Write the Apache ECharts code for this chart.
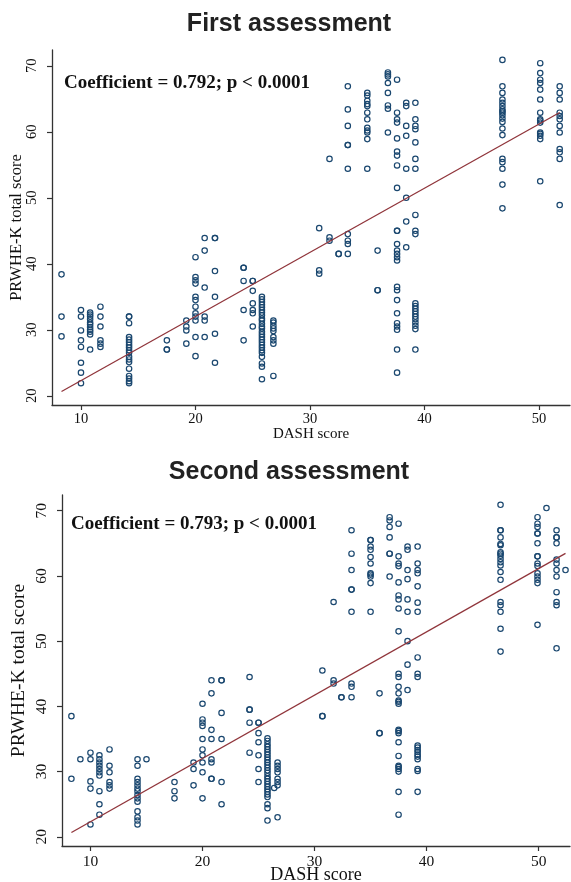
<!DOCTYPE html>
<html>
<head>
<meta charset="utf-8">
<script src="https://cdn.jsdelivr.net/npm/echarts@6/dist/echarts.min.js"></script>
<style>html,body{margin:0;padding:0;background:#fff;}#c{width:571px;height:882px;}</style>
</head>
<body>
<div id="c"></div>
<script>
// ---------- DATA ----------
const titles = ['First assessment', 'Second assessment'];
const coefTexts = ['Coefficient = 0.792; p < 0.0001', 'Coefficient = 0.793; p < 0.0001'];
const xTicks = [10, 20, 30, 40, 50];
const yTicks = [20, 30, 40, 50, 60, 70];
const xName = 'DASH score';
const yName = 'PRWHE-K total score';

// First assessment: DASH columns and PRWHE-K values in each column
const firstDash = [8.3, 10.0, 10.8, 11.7, 14.2, 17.5, 19.2, 20.0, 20.8, 21.7, 24.2, 25.0, 25.8, 26.8,
  30.8, 31.7, 32.5, 33.3, 35.0, 35.9, 36.8, 37.6, 38.4, 39.2, 46.8, 50.1, 51.8];
const firstPrwhe = [
  [38.4, 32.0, 29.0],
  [33.0, 32.0, 29.9, 28.4, 27.4, 25.0, 23.5, 21.9],
  [32.6, 32.3, 32.0, 31.6, 31.1, 30.8, 30.4, 30.0, 29.7, 29.3, 27.0],
  [33.5, 32.0, 30.5, 28.4, 27.9, 27.4],
  [32.0, 32.0, 31.0, 28.9, 28.5, 28.1, 27.7, 27.3, 26.9, 26.5, 25.9, 25.5, 25.1, 24.1, 23.0, 22.6, 22.2, 21.9],
  [28.4, 27.0, 27.0],
  [31.4, 30.5, 29.9, 27.9],
  [41.0, 38.0, 37.5, 37.0, 35.0, 34.5, 33.5, 32.5, 32.0, 31.4, 28.9, 26.0],
  [43.9, 42.0, 36.4, 32.0, 31.4, 28.9],
  [43.9, 43.9, 38.9, 35.0, 29.4, 25.0],
  [39.4, 39.4, 37.4, 33.0, 28.4],
  [37.4, 37.4, 35.9, 34.0, 33.0, 32.5, 30.5],
  [35.0, 34.6, 34.2, 33.8, 33.4, 33.0, 32.6, 32.2, 31.7, 31.4, 30.9, 30.5, 30.2, 29.7, 29.3, 28.9, 28.5, 28.1, 27.7, 27.3, 26.9, 26.5, 25.9, 24.9, 24.4, 22.5],
  [31.4, 31.1, 30.6, 30.2, 29.8, 28.9, 28.4, 27.9, 23.0],
  [45.4, 39.0, 38.5],
  [55.9, 44.0, 43.5],
  [41.5, 41.5],
  [66.9, 63.4, 60.9, 58.0, 58.0, 54.4, 44.5, 43.5, 43.0, 41.5],
  [65.9, 65.5, 64.7, 64.2, 63.9, 62.9, 61.9, 60.6, 60.2, 59.9, 58.9, 54.4],
  [42.0, 36.0, 36.0],
  [69.0, 68.7, 68.4, 67.4, 65.9, 64.0, 63.5, 59.9],
  [67.9, 62.9, 61.9, 61.4, 59.0, 57.0, 56.4, 54.9, 51.5, 45.0, 45.0, 43.0, 42.0, 41.5, 41.0, 40.5, 36.5, 36.0, 34.5, 32.5, 31.0, 30.5, 30.0, 27.0, 23.5],
  [64.4, 63.9, 60.9, 59.4, 54.4, 50.0, 46.4, 42.5],
  [64.4, 61.9, 60.9, 60.4, 58.4, 55.9, 54.4, 47.4, 45.0, 44.5, 34.0, 33.6, 33.2, 32.8, 32.4, 32.0, 31.6, 31.1, 30.6, 30.1, 27.0],
  [70.9, 66.9, 65.9, 64.9, 64.4, 63.9, 63.4, 63.1, 62.9, 62.5, 62.0, 61.5, 60.5, 59.5, 55.9, 55.4, 54.4, 52.0, 48.4],
  [70.4, 68.9, 67.9, 67.4, 66.4, 64.9, 62.9, 61.9, 61.7, 61.4, 59.9, 59.7, 59.4, 58.9, 52.5],
  [66.9, 65.9, 64.9, 62.9, 62.4, 61.9, 60.9, 59.9, 57.4, 56.9, 55.9, 48.9]
];

// Second assessment
const secondDash = [8.3, 9.1, 10.0, 10.8, 11.7, 14.2, 15.0, 17.5, 19.2, 20.0, 20.8, 21.7, 24.2, 25.0, 25.8, 26.4, 26.7,
  30.7, 31.7, 32.4, 33.3, 35.0, 35.8, 36.7, 37.5, 38.3, 39.2, 46.6, 49.9, 50.7, 51.6, 52.4];
const secondPrwhe = [
  [38.5, 28.9],
  [31.9],
  [32.9, 31.9, 28.5, 27.4, 21.9],
  [32.5, 31.9, 31.4, 30.9, 30.4, 29.9, 29.4, 27.0, 25.0, 23.4],
  [33.4, 30.9, 29.9, 28.4, 27.9, 27.4],
  [31.9, 30.9, 28.9, 28.4, 27.9, 27.4, 27.0, 26.4, 25.9, 25.4, 23.9, 23.0, 22.5, 21.9],
  [31.9],
  [28.4, 27.0, 25.9],
  [31.4, 30.4, 27.9],
  [40.4, 38.0, 37.5, 37.0, 35.0, 33.4, 32.5, 31.4, 29.9, 25.9],
  [44.0, 42.0, 36.4, 35.0, 31.9, 31.4, 28.9, 28.9],
  [44.0, 44.0, 39.0, 35.0, 28.4, 25.0],
  [44.5, 39.5, 39.5, 37.5, 32.9],
  [37.5, 37.5, 35.9, 34.5, 32.5, 30.4, 28.4],
  [35.1, 34.7, 34.2, 33.8, 33.4, 33.0, 32.6, 32.2, 31.8, 31.4, 31.0, 30.6, 30.2, 29.8, 29.3, 28.9, 28.5, 28.1, 27.7, 27.3, 26.9, 26.5, 26.1, 25.0, 24.4, 22.5],
  [27.5],
  [31.4, 30.9, 30.4, 29.9, 28.9, 28.4, 27.9, 23.0],
  [45.5, 38.5, 38.5],
  [56.0, 44.0, 43.5],
  [41.4, 41.4],
  [67.0, 63.4, 60.9, 57.9, 57.9, 54.5, 43.5, 43.0, 41.4],
  [65.5, 65.5, 64.5, 64.0, 62.9, 61.9, 60.4, 60.2, 59.9, 58.9, 54.5],
  [42.0, 35.9, 35.9],
  [69.0, 68.5, 67.5, 65.9, 63.4, 63.4, 59.9],
  [68.0, 63.0, 61.9, 61.5, 59.0, 57.0, 56.4, 55.0, 51.5, 45.0, 44.5, 43.0, 42.0, 40.9, 40.7, 40.4, 36.4, 36.2, 35.9, 34.5, 32.4, 30.9, 30.7, 30.4, 30.0, 26.9, 23.4],
  [64.5, 64.0, 60.9, 59.5, 56.4, 54.5, 50.0, 46.4, 42.5],
  [64.5, 61.9, 60.9, 60.4, 58.4, 55.9, 54.5, 47.5, 45.0, 44.5, 34.0, 33.7, 33.3, 33.0, 32.6, 32.3, 31.9, 30.4, 30.1, 26.9],
  [70.9, 67.0, 67.0, 65.9, 64.9, 64.7, 63.6, 63.4, 63.1, 62.6, 62.1, 61.6, 60.6, 59.4, 56.0, 55.5, 54.5, 51.9, 48.4],
  [69.0, 68.0, 67.5, 66.5, 66.5, 65.0, 63.0, 63.0, 61.9, 61.5, 60.4, 59.9, 59.4, 58.9, 52.5],
  [70.4],
  [67.0, 65.9, 65.9, 65.0, 62.5, 61.9, 60.9, 59.9, 57.5, 56.0, 55.5, 48.9],
  [60.9]
];

// Fitted lines: [intercept, slope]
const firstFit = [12.58, 0.972];
const secondFit = [12.62, 0.970];

// ---------- BUILD ----------
function toPoints(dash, prwhe) {
  const pts = [];
  dash.forEach((x, i) => prwhe[i].forEach(y => pts.push([x, y])));
  return pts;
}
function fitLine(dash, fit) {
  const x0 = Math.min.apply(null, dash), x1 = Math.max.apply(null, dash);
  return [[x0, fit[0] + fit[1] * x0], [x1, fit[0] + fit[1] * x1]];
}

const NAVY = '#1a476f', MAROON = '#90353b', AXIS = '#333';
const SERIF = '"Liberation Serif", "Times New Roman", serif';
const SANS = '"Liberation Sans", Arial, Helvetica, sans-serif';

const layout = [
  { grid: { left: 52, right: 1, top: 50, bottom: 477 }, xMin: 7.47, xMax: 52.7, yMin: 18.6, yMax: 72.4,
    tickFont: 14.5, xNameFont: 15, yNameFont: 16.5, xNameGap: 22, yNameGap: 27, xLabMargin: 7, yLabMargin: 12 },
  { grid: { left: 62, right: 1, top: 495, bottom: 36 }, xMin: 7.46, xMax: 52.8, yMin: 18.6, yMax: 72.4,
    tickFont: 15.5, xNameFont: 18, yNameFont: 19.5, xNameGap: 20, yNameGap: 33, xLabMargin: 8, yLabMargin: 12 }
];

const xAxes = [], yAxes = [], grids = [], series = [];
layout.forEach((L, i) => {
  grids.push(Object.assign({ containLabel: false, outerBoundsMode: 'none' }, L.grid));
  xAxes.push({
    gridIndex: i, type: 'value', min: L.xMin, max: L.xMax,
    name: xName, nameLocation: 'middle', nameGap: L.xNameGap, nameMoveOverlap: false,
    nameTextStyle: { fontFamily: SERIF, fontSize: L.xNameFont, color: '#111' },
    axisLine: { show: true, onZero: false, lineStyle: { color: AXIS, width: 1.3 } },
    axisTick: { show: true, length: 5, customValues: xTicks, lineStyle: { color: AXIS, width: 1.2 } },
    axisLabel: { customValues: xTicks, fontFamily: SERIF, fontSize: L.tickFont, color: '#111', margin: L.xLabMargin },
    splitLine: { show: false }
  });
  yAxes.push({
    gridIndex: i, type: 'value', min: L.yMin, max: L.yMax,
    name: yName, nameLocation: 'middle', nameGap: L.yNameGap, nameMoveOverlap: false,
    nameTextStyle: { fontFamily: SERIF, fontSize: L.yNameFont, color: '#111' },
    axisLine: { show: true, onZero: false, lineStyle: { color: AXIS, width: 1.3 } },
    axisTick: { show: true, length: 5, customValues: yTicks, lineStyle: { color: AXIS, width: 1.2 } },
    axisLabel: { customValues: yTicks, rotate: 90, fontFamily: SERIF, fontSize: L.tickFont, color: '#111', margin: L.yLabMargin },
    splitLine: { show: false }
  });
});

const dashSets = [firstDash, secondDash], prwheSets = [firstPrwhe, secondPrwhe], fits = [firstFit, secondFit];
for (let i = 0; i < 2; i++) {
  series.push({
    type: 'scatter', xAxisIndex: i, yAxisIndex: i, symbol: 'circle', symbolSize: 5.4,
    itemStyle: { color: 'rgba(0,0,0,0)', borderColor: NAVY, borderWidth: 1.2, opacity: 1 },
    data: toPoints(dashSets[i], prwheSets[i]), silent: true, animation: false
  });
  series.push({
    type: 'line', xAxisIndex: i, yAxisIndex: i, showSymbol: false, symbol: 'none',
    lineStyle: { color: MAROON, width: 1.3 }, data: fitLine(dashSets[i], fits[i]),
    silent: true, animation: false
  });
}

const graphic = [
  { type: 'text', x: 289, y: 24, style: { text: titles[0], fontFamily: SANS, fontWeight: 'bold', fontSize: 25, fill: '#222', align: 'center', verticalAlign: 'middle' } },
  { type: 'text', x: 64, y: 83, style: { text: coefTexts[0], fontFamily: SERIF, fontWeight: 'bold', fontSize: 19, fill: '#111', align: 'left', verticalAlign: 'middle' } },
  { type: 'text', x: 289, y: 472, style: { text: titles[1], fontFamily: SANS, fontWeight: 'bold', fontSize: 25, fill: '#222', align: 'center', verticalAlign: 'middle' } },
  { type: 'text', x: 71, y: 524, style: { text: coefTexts[1], fontFamily: SERIF, fontWeight: 'bold', fontSize: 19, fill: '#111', align: 'left', verticalAlign: 'middle' } }
];

const chart = echarts.init(document.getElementById('c'), null, { renderer: 'canvas' });
chart.setOption({
  backgroundColor: '#fff', animation: false,
  grid: grids, xAxis: xAxes, yAxis: yAxes, series: series, graphic: graphic
});
</script>
</body>
</html>
